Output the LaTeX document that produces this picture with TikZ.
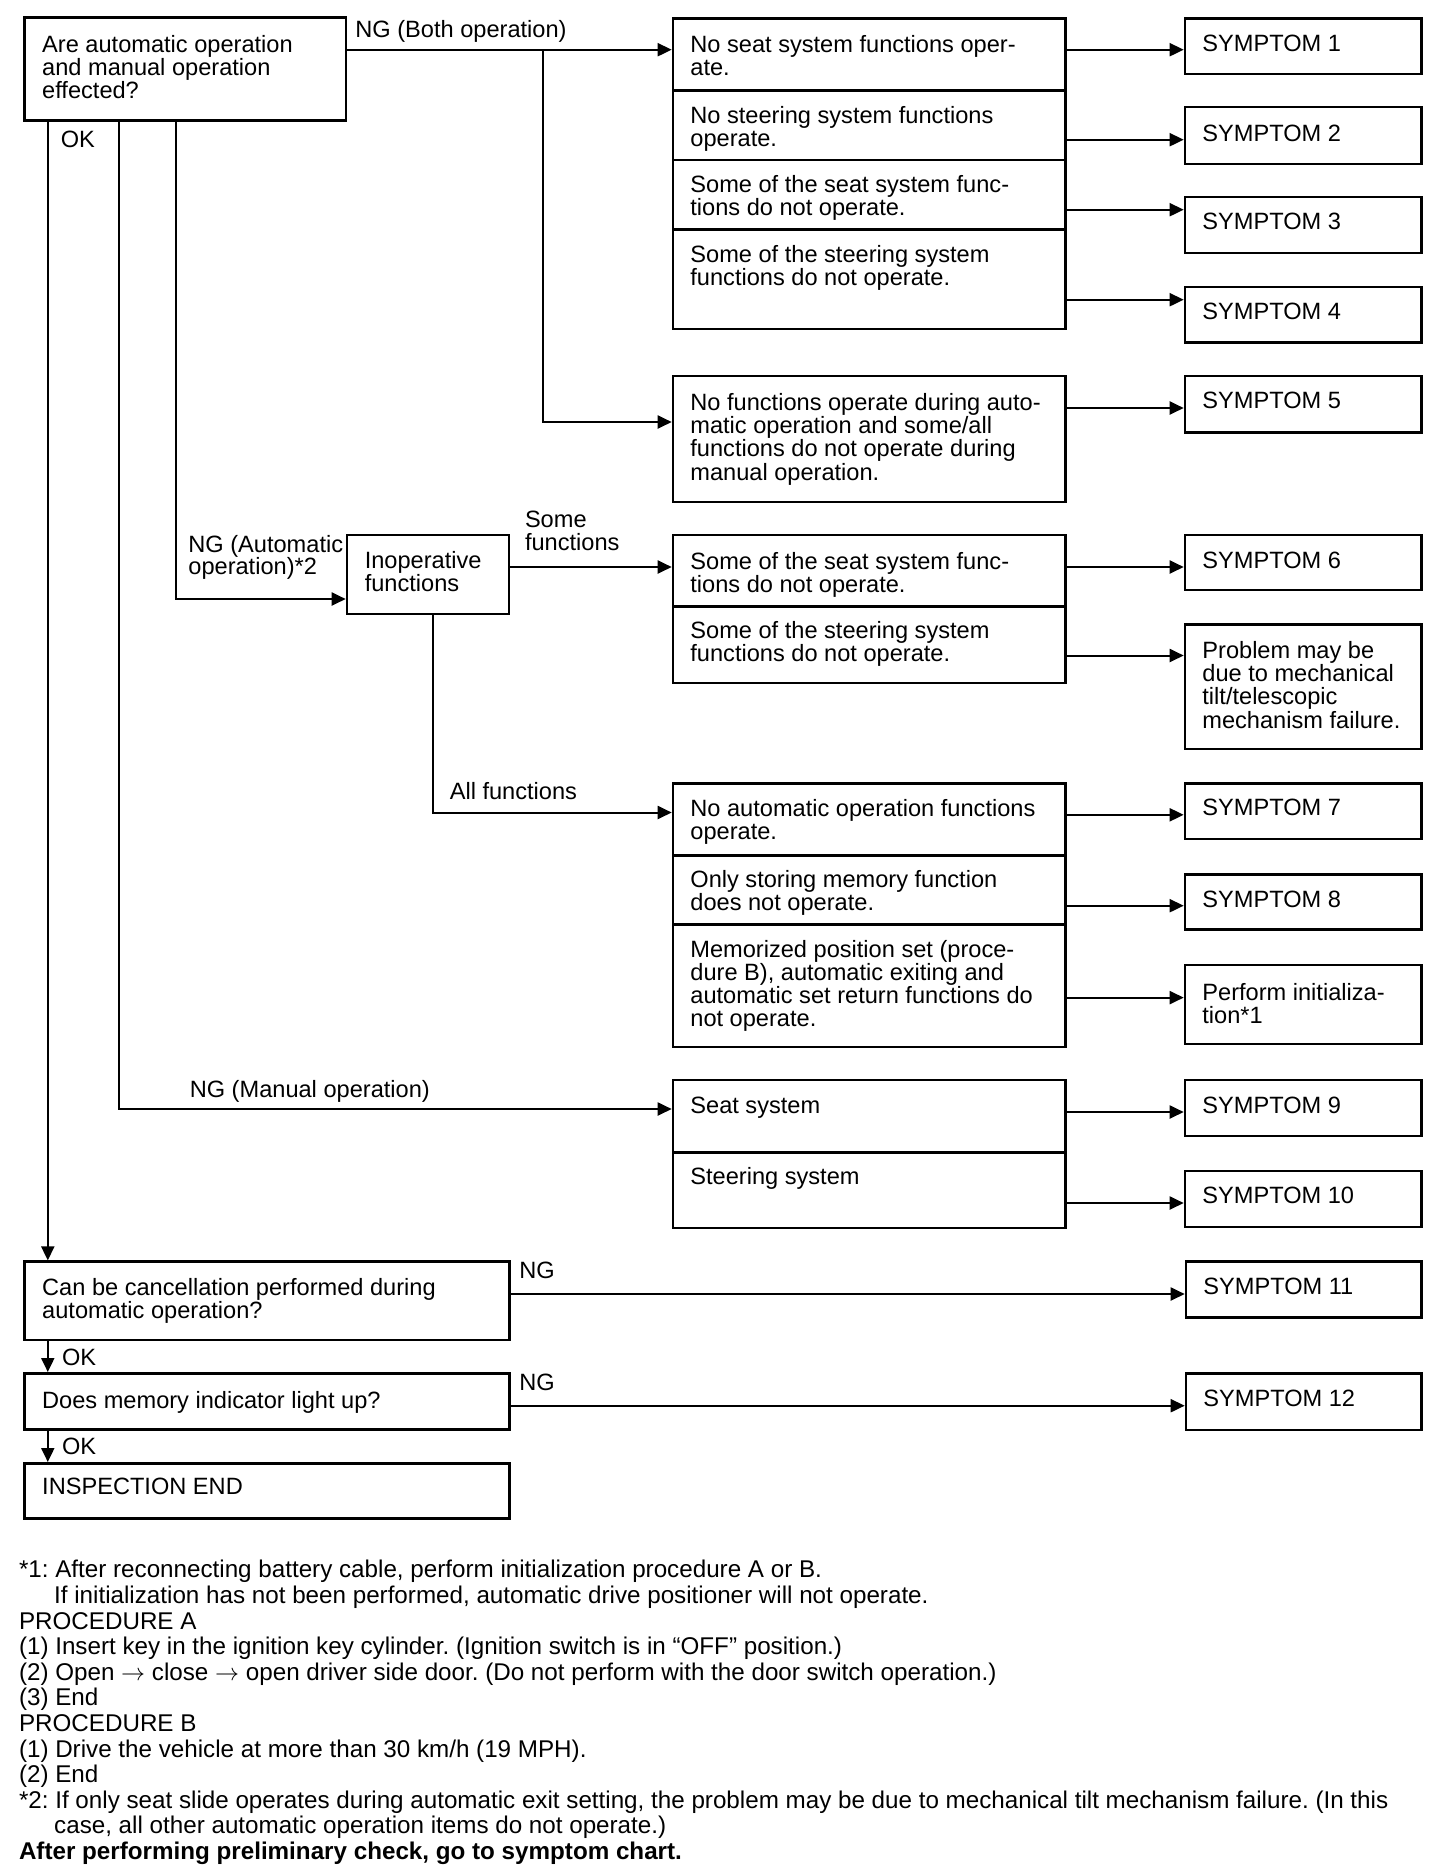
\documentclass[tikz,border=0pt]{standalone}
\usepackage{fontspec}
\setmainfont{Liberation Sans}
\usetikzlibrary{arrows.meta,fit}
\newcommand\bxx[5]{\path (#2,#3) coordinate (#1nw) (#4,#5) coordinate (#1se); \node[bx, fit=(#1nw)(#1se)] (#1) {};}
\newcommand\txx[4]{\node[tx, anchor=north west] (#1) at (#2,#3) {#4};}
\newcommand\lnk[3]{\coordinate (ly#1#2) at (0,#3); \draw[arr] (#1.east |- ly#1#2) -- (#2.west |- ly#1#2);}
\frenchspacing
\begin{document}
\begin{tikzpicture}[x=0.5pt,y=-0.5pt,
  bx/.style={draw, line width=1.3pt, inner sep=0pt},
  tx/.style={inner sep=0pt, align=left, font=\fontsize{11.8}{11.6}\selectfont},
  arr/.style={draw, line width=1pt, -{Triangle[length=7pt,width=6.5pt]}},
  ln/.style={draw, line width=1pt}]
\fill[white] (0,0) rectangle (1456,1870);
\useasboundingbox (0,0) rectangle (1456,1870);

% left column boxes
\bxx{q1}{24.6}{17.2}{346}{120.5}
\bxx{q2}{24.6}{1261.7}{509.7}{1340}
\bxx{q3}{24.6}{1373.3}{509.7}{1429.3}
\bxx{q4}{24.6}{1463.3}{509.7}{1518.3}
\bxx{inop}{347}{535}{509}{613.8}

% middle column
\bxx{b1}{673}{18.4}{1065.4}{90.7}
\bxx{b2}{673}{90.7}{1065.4}{160}
\bxx{b3}{673}{160}{1065.4}{229.6}
\bxx{b4}{673}{229.6}{1065.4}{329}
\bxx{b5}{673}{375.8}{1065.4}{502}
\bxx{b6}{673}{535}{1065.4}{606.7}
\bxx{b7}{673}{606.7}{1065.4}{683}
\bxx{b8}{673}{783.5}{1065.4}{855.5}
\bxx{b9}{673}{855.5}{1065.4}{924.2}
\bxx{b10}{673}{924.2}{1065.4}{1047}
\bxx{b11}{673}{1080}{1065.4}{1152.5}
\bxx{b12}{673}{1152.5}{1065.4}{1228}

% right column
\bxx{s1}{1185}{18.4}{1421.5}{73.9}
\bxx{s2}{1185}{107}{1421.5}{163.8}
\bxx{s3}{1185}{197}{1421.5}{253}
\bxx{s4}{1185}{287}{1421.5}{342.5}
\bxx{s5}{1185}{375.8}{1421.5}{432.5}
\bxx{s6}{1185}{535}{1421.5}{590}
\bxx{pm}{1185}{624.4}{1421.5}{748.8}
\bxx{s7}{1185}{783.7}{1421.5}{838.8}
\bxx{s8}{1185}{874.6}{1421.5}{929.7}
\bxx{pi}{1185}{965}{1421.5}{1044}
\bxx{s9}{1185}{1080}{1421.5}{1136}
\bxx{s10}{1185}{1171}{1421.5}{1227}
\bxx{s11}{1186}{1261.7}{1421.5}{1317.7}
\bxx{s12}{1186}{1373.3}{1421.5}{1430}

% texts
\txx{q1t}{41.8}{35}{Are automatic operation\\and manual operation\\effected?}
\txx{q2t}{41.8}{1277.5}{Can be cancellation performed during\\automatic operation?}
\txx{q3t}{41.8}{1390.5}{Does memory indicator light up?}
\txx{q4t}{41.8}{1478}{INSPECTION END}
\txx{inopt}{364.4}{551}{Inoperative\\functions}
\txx{b1t}{690}{35}{No seat system functions oper-\\ate.}
\txx{b2t}{690}{105.5}{No steering system functions\\operate.}
\txx{b3t}{690}{175}{Some of the seat system func-\\tions do not operate.}
\txx{b4t}{690}{244.5}{Some of the steering system\\functions do not operate.}
\txx{b5t}{690}{393}{No functions operate during auto-\\matic operation and some/all\\functions do not operate during\\manual operation.}
\txx{b6t}{690}{551.5}{Some of the seat system func-\\tions do not operate.}
\txx{b7t}{690}{621}{Some of the steering system\\functions do not operate.}
\txx{b8t}{690}{799}{No automatic operation functions\\operate.}
\txx{b9t}{690}{870}{Only storing memory function\\does not operate.}
\txx{b10t}{690}{939.5}{Memorized position set (proce-\\dure B), automatic exiting and\\automatic set return functions do\\not operate.}
\txx{b11t}{690}{1097}{Seat system}
\txx{b12t}{690}{1166.5}{Steering system}
\txx{s1t}{1202}{35}{SYMPTOM 1}
\txx{s2t}{1202}{124.5}{SYMPTOM 2}
\txx{s3t}{1202}{213}{SYMPTOM 3}
\txx{s4t}{1202}{302.5}{SYMPTOM 4}
\txx{s5t}{1202}{392}{SYMPTOM 5}
\txx{s6t}{1202}{551.5}{SYMPTOM 6}
\txx{pmt}{1202}{641}{Problem may be\\due to mechanical\\tilt/telescopic\\mechanism failure.}
\txx{s7t}{1202}{799}{SYMPTOM 7}
\txx{s8t}{1202}{890.5}{SYMPTOM 8}
\txx{pit}{1202}{982.5}{Perform initializa-\\tion*1}
\txx{s9t}{1202}{1097}{SYMPTOM 9}
\txx{s10t}{1202}{1187}{SYMPTOM 10}
\txx{s11t}{1203}{1278}{SYMPTOM 11}
\txx{s12t}{1203}{1390}{SYMPTOM 12}

% labels
\txx{l1}{355}{19.5}{NG (Both operation)}
\txx{l2}{60.4}{130.5}{OK}
\node[tx, anchor=north west, font=\fontsize{11.8}{11}\selectfont] (l3) at (188,535) {NG (Automatic\\operation)*2};
\txx{l4}{524.6}{510.5}{Some\\functions}
\txx{l5}{449.4}{782}{All functions}
\txx{l6}{189.4}{1080}{NG (Manual operation)}
\txx{l7}{519}{1262}{NG}
\txx{l8}{61.7}{1348.5}{OK}
\txx{l9}{519}{1373.5}{NG}
\txx{l10}{61.7}{1437.5}{OK}

% connectors from first question
\coordinate (ya) at (0,49.7);
\coordinate (xb) at (543,0);
\coordinate (yb) at (0,422);
\draw[arr] (q1.east |- ya) -- (b1.west |- ya);
\draw[arr] (xb |- ya) -- (xb |- yb) -- (b5.west |- yb);
\coordinate (xok) at (47.8,0);
\draw[arr] (q1.south -| xok) -- (q2.north -| xok);
\coordinate (xm) at (119.3,0);
\coordinate (ym) at (0,1109);
\draw[arr] (q1.south -| xm) -- (xm |- ym) -- (b11.west |- ym);
\coordinate (xa) at (175.5,0);
\coordinate (yaa) at (0,599);
\draw[arr] (q1.south -| xa) -- (xa |- yaa) -- (inop.west |- yaa);
\coordinate (ys) at (0,567);
\draw[arr] (inop.east |- ys) -- (b6.west |- ys);
\coordinate (xall) at (433,0);
\coordinate (yall) at (0,812.5);
\draw[arr] (inop.south -| xall) -- (xall |- yall) -- (b8.west |- yall);

% column to symptoms
\lnk{b1}{s1}{49.7}
\lnk{b2}{s2}{139.7}
\lnk{b3}{s3}{209.7}
\lnk{b4}{s4}{299.7}
\lnk{b5}{s5}{408}
\lnk{b6}{s6}{567}
\lnk{b7}{pm}{655.5}
\lnk{b8}{s7}{814.8}
\lnk{b9}{s8}{905.7}
\lnk{b10}{pi}{997.6}
\lnk{b11}{s9}{1112}
\lnk{b12}{s10}{1203}
\lnk{q2}{s11}{1294}
\lnk{q3}{s12}{1405.7}

\draw[arr] (q2.south -| xok) -- (q3.north -| xok);
\draw[arr] (q3.south -| xok) -- (q4.north -| xok);

% footnotes
\node[inner sep=0pt, align=left, anchor=north west, font=\fontsize{12.1}{12.8}\selectfont] (notes) at (18.6,1560) {%
*1: After reconnecting battery cable, perform initialization procedure A or B.\\
\hspace*{17.6pt}If initialization has not been performed, automatic drive positioner will not operate.\\
PROCEDURE A\\
(1) Insert key in the ignition key cylinder. (Ignition switch is in “OFF” position.)\\
(2) Open $\rightarrow$ close $\rightarrow$ open driver side door. (Do not perform with the door switch operation.)\\
(3) End\\
PROCEDURE B\\
(1) Drive the vehicle at more than 30 km/h (19 MPH).\\
(2) End\\
*2: If only seat slide operates during automatic exit setting, the problem may be due to mechanical tilt mechanism failure. (In this\\
\hspace*{17.6pt}case, all other automatic operation items do not operate.)\\
\textbf{After performing preliminary check, go to symptom chart.}};
\end{tikzpicture}
\end{document}
